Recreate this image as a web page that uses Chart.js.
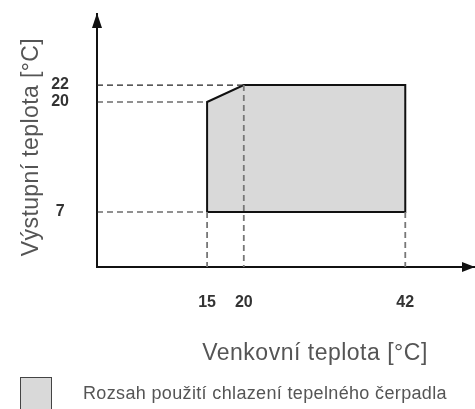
<!DOCTYPE html>
<html>
<head>
<meta charset="utf-8">
<script src="https://cdn.jsdelivr.net/npm/chart.js@4/dist/chart.umd.min.js"></script>
<style>
  html, body { margin: 0; padding: 0; background: #fff; }
  #wrap { position: relative; width: 475px; height: 409px; overflow: hidden; font-family: "Liberation Sans", Arial, sans-serif; }
  #c { position: absolute; left: 0; top: 0; }
  .ytitle { position: absolute; left: 30px; top: 147px; transform: translate(-50%, -50%) rotate(-90deg); white-space: nowrap; font-size: 23px; letter-spacing: 0.4px; color: #555; }
  .xtitle { position: absolute; left: 315px; top: 352px; transform: translate(-50%, -50%); white-space: nowrap; font-size: 23px; letter-spacing: 0.5px; color: #555; }
  .lgbox { position: absolute; left: 20px; top: 377px; width: 30px; height: 40px; background: #d9d9d9; border: 1.5px solid #444; }
  .lgtext { position: absolute; left: 83px; top: 393px; transform: translateY(-50%); white-space: nowrap; font-size: 18px; letter-spacing: 0.35px; color: #555; }
</style>
</head>
<body>
<div id="wrap">
  <canvas id="c" width="475" height="409"></canvas>
  <div class="ytitle">Výstupní teplota [°C]</div>
  <div class="xtitle">Venkovní teplota [°C]</div>
  <div class="lgbox"></div>
  <div class="lgtext">Rozsah použití chlazení tepelného čerpadla</div>
</div>
<script>
// ---- data ----
const xTicks = [15, 20, 42];            // Venkovní teplota [°C]
const yTicks = [7, 20, 22];             // Výstupní teplota [°C]
const outdoorTemp = [15, 15, 20, 42, 42, 15];   // boundary of the operating range
const outletTemp  = [7, 20, 22, 22, 7, 7];
const xRange = [0, 51.5];
const yRange = [0.5, 30.4];

const polygon = outdoorTemp.map((x, i) => ({ x: x, y: outletTemp[i] }));

// guide lines (horizontal from the y axis to the corner, vertical from the corner down to the x axis)
const hGuides = [
  [{ x: xRange[0], y: 22 }, { x: 20, y: 22 }],
  [{ x: xRange[0], y: 20 }, { x: 15, y: 20 }],
  [{ x: xRange[0], y: 7 }, { x: 15, y: 7 }]
];
const vGuides = [
  [{ x: 15, y: 7 }, { x: 15, y: yRange[0] }],
  [{ x: 20, y: 22 }, { x: 20, y: yRange[0] }],
  [{ x: 42, y: 7 }, { x: 42, y: yRange[0] }]
];

const datasets = [];
hGuides.forEach(g => datasets.push({
  type: 'line', data: g, borderColor: '#222', borderWidth: 1.2, borderDash: [6, 4],
  pointRadius: 0, fill: false, order: 0
}));
vGuides.forEach(g => datasets.push({
  type: 'line', data: g, borderColor: '#777', borderWidth: 1.8, borderDash: [6, 4],
  pointRadius: 0, fill: false, order: 0
}));
datasets.push({
  type: 'line', data: polygon, borderColor: '#111', borderWidth: 2,
  backgroundColor: '#d9d9d9', fill: 'shape', pointRadius: 0, tension: 0, order: 1
});

const arrows = {
  id: 'arrows',
  afterDraw(chart) {
    const { ctx, chartArea: a } = chart;
    ctx.save();
    ctx.fillStyle = '#111';
    ctx.beginPath();
    ctx.moveTo(a.left, a.top - 1);
    ctx.lineTo(a.left - 5, a.top + 14);
    ctx.lineTo(a.left + 5, a.top + 14);
    ctx.closePath();
    ctx.fill();
    ctx.beginPath();
    ctx.moveTo(a.right, a.bottom);
    ctx.lineTo(a.right - 13, a.bottom - 5);
    ctx.lineTo(a.right - 13, a.bottom + 5);
    ctx.closePath();
    ctx.fill();
    ctx.restore();
  }
};

const tickFont = { family: '"Liberation Sans", Arial, sans-serif', size: 16, weight: 'bold' };
const noPad = s => { s.paddingTop = 0; s.paddingBottom = 0; s.paddingLeft = 0; s.paddingRight = 0; };

new Chart(document.getElementById('c'), {
  type: 'scatter',
  data: { datasets },
  options: {
    responsive: false,
    animation: false,
    devicePixelRatio: 1,
    layout: { padding: { top: 14, right: 0, left: 0, bottom: 0 } },
    plugins: { legend: { display: false }, tooltip: { enabled: false } },
    scales: {
      x: {
        type: 'linear', min: xRange[0], max: xRange[1],
        afterBuildTicks: s => { s.ticks = xTicks.map(v => ({ value: v })); },
        afterFit: s => { s.height = 142; noPad(s); },
        grid: { display: false, drawTicks: false },
        border: { display: true, color: '#111', width: 2 },
        ticks: { font: tickFont, color: '#333', padding: 26, maxRotation: 0, autoSkip: false }
      },
      y: {
        type: 'linear', min: yRange[0], max: yRange[1],
        afterBuildTicks: s => { s.ticks = yTicks.map(v => ({ value: v })); },
        afterFit: s => { s.width = 97; noPad(s); },
        grid: { display: false, drawTicks: false },
        border: { display: true, color: '#111', width: 2 },
        ticks: { font: tickFont, color: '#333', padding: 28, crossAlign: 'center', autoSkip: false }
      }
    }
  },
  plugins: [arrows]
});
</script>
</body>
</html>
